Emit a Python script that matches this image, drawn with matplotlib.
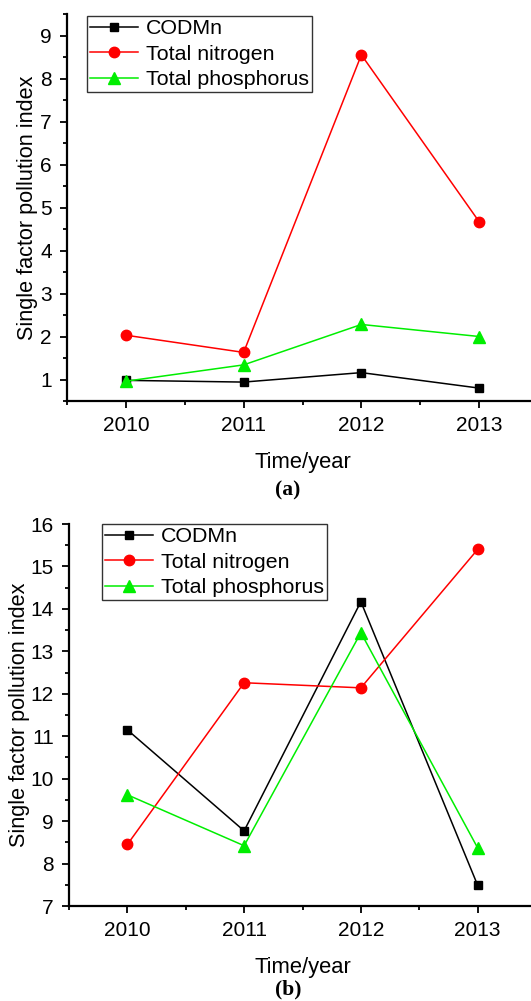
import matplotlib
matplotlib.use('Agg')
import matplotlib.pyplot as plt
from matplotlib.ticker import MultipleLocator

plt.rcParams['font.family'] = ['Liberation Sans', 'DejaVu Sans']

years = [2010, 2011, 2012, 2013]
series_names = ['CODMn', 'Total nitrogen', 'Total phosphorus']

# panel (a)
codmn_a = [0.98, 0.94, 1.16, 0.80]
tn_a = [2.03, 1.63, 8.55, 4.67]
tp_a = [0.96, 1.34, 2.28, 2.00]

# panel (b)
codmn_b = [11.15, 8.77, 14.17, 7.49]
tn_b = [8.45, 12.26, 12.14, 15.40]
tp_b = [9.62, 8.42, 13.44, 8.37]

W, H = 531, 1001
fig = plt.figure(figsize=(W / 100, H / 100), dpi=100)


def panel(rect, data, ylim, legend_box, tag, tag_y, ylabel_pad):
    x0, y0, x1, y1 = rect  # pixel coords, y from top
    ax = fig.add_axes([x0 / W, 1 - y1 / H, (x1 - x0) / W, (y1 - y0) / H])
    styles = [('black', 's', 6), ('red', 'o', 7.5), ('#00ee00', '^', 8)]
    for vals, name, (c, m, ms) in zip(data, series_names, styles):
        ax.plot(years, vals, color=c, marker=m, markersize=ms, lw=1.1,
                label=name, clip_on=False)
    ax.set_xlim(2009.5, 2013.5)
    ax.set_ylim(*ylim)
    ax.set_xticks(years)
    ax.xaxis.set_minor_locator(MultipleLocator(0.5))
    ax.yaxis.set_major_locator(MultipleLocator(1))
    ax.yaxis.set_minor_locator(MultipleLocator(0.5))
    for s in ['top', 'right']:
        ax.spines[s].set_visible(False)
    for s in ['left', 'bottom']:
        ax.spines[s].set_linewidth(1.6)
    ax.tick_params(which='major', direction='out', length=5, width=1.3,
                   labelsize=15, pad=6)
    ax.tick_params(which='minor', direction='out', length=3, width=1.3)
    ax.set_xlabel('Time/year', fontsize=15.8, labelpad=12)
    ax.set_ylabel('Single factor pollution index', fontsize=15.6,
                  labelpad=ylabel_pad)
    lx0, ly0, lx1, ly1 = legend_box
    leg = ax.legend(loc='upper left',
                    bbox_to_anchor=(lx0 / W, 1 - ly0 / H),
                    bbox_transform=fig.transFigure,
                    fontsize=15.4, frameon=True, fancybox=False,
                    edgecolor='black', borderpad=0.15, handlelength=2.25,
                    handletextpad=0.35, labelspacing=0.3, borderaxespad=0)
    leg.get_frame().set_linewidth(1.0)
    fig.text(288 / W, 1 - tag_y / H, tag,
             ha='center', va='center', fontsize=15.5,
             family=['Liberation Serif', 'DejaVu Serif'], fontweight='bold')
    return ax


panel((67, 14, 538, 401), [codmn_a, tn_a, tp_a], (0.5, 9.5),
      (87, 16, 314, 100), '(a)', 490, 1.5)
panel((69, 524, 536, 906), [codmn_b, tn_b, tp_b], (7, 16),
      (102, 524, 327, 608), '(b)', 989, 0.5)

fig.savefig('out.png', dpi=100)
